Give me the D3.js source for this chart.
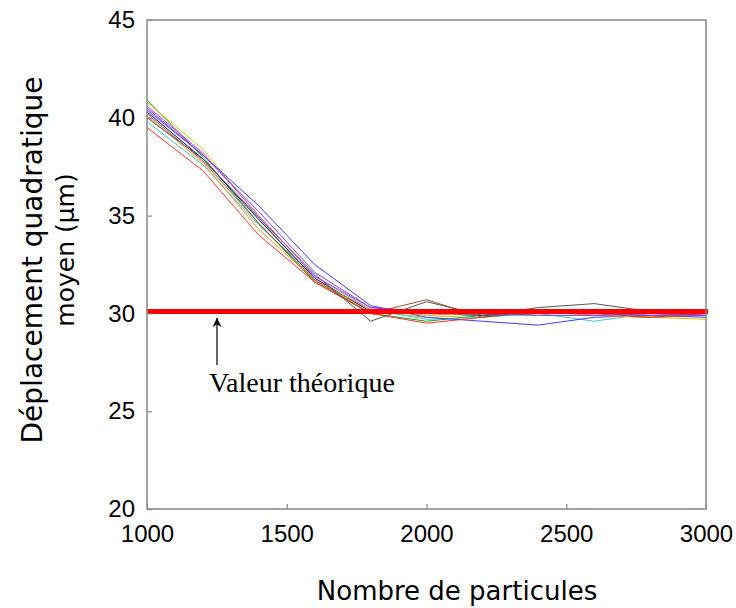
<!DOCTYPE html>
<html>
<head>
<meta charset="utf-8">
<script src="https://cdn.jsdelivr.net/npm/d3@7"></script>
<style>
  body { margin: 0; background: #fff; }
  svg { display: block; }
</style>
</head>
<body>
<script>
// particle counts on the x axis
var particles = [1000, 1200, 1400, 1600, 1800, 2000, 2200, 2400, 2600, 2800, 3000];

// one run per series
var runGreen   = [40.9, 38.0, 34.6, 31.6, 30.0, 29.6, 29.9, 30.0, 30.0, 29.9, 29.9];
var runYellow  = [40.8, 38.4, 34.9, 31.7, 30.1, 29.8, 29.9, 29.9, 29.9, 29.8, 29.7];
var runCyan    = [39.8, 37.6, 34.5, 31.9, 30.2, 29.7, 29.8, 30.0, 29.6, 30.0, 29.9];
var runBlue    = [40.4, 38.1, 35.5, 32.5, 30.4, 29.8, 29.6, 29.4, 29.8, 29.9, 29.8];
var runNavy    = [40.3, 37.9, 34.8, 31.8, 30.1, 30.0, 29.9, 30.0, 30.0, 30.0, 30.0];
var runRed     = [39.5, 37.3, 34.0, 31.6, 30.0, 29.5, 29.8, 30.2, 29.9, 29.8, 29.9];
var runOrange  = [40.1, 37.7, 34.3, 31.7, 30.2, 29.9, 30.0, 30.1, 29.9, 29.8, 30.0];
var runBrown   = [40.2, 37.8, 34.6, 31.7, 30.0, 30.7, 29.8, 30.1, 30.0, 29.8, 30.0];
var runGray    = [40.0, 37.9, 34.9, 32.0, 29.6, 30.6, 29.9, 30.3, 30.5, 30.1, 30.0];
var runMagenta = [40.6, 38.2, 35.0, 31.9, 30.3, 30.0, 30.0, 30.1, 30.0, 29.9, 30.0];
var runPurple  = [40.5, 38.1, 35.2, 32.1, 30.3, 30.1, 30.0, 29.9, 29.9, 30.0, 29.9];

var runs = [runGreen, runYellow, runCyan, runBlue, runNavy, runRed,
            runOrange, runBrown, runGray, runMagenta, runPurple];
var runColours = ["#1a9a1a", "#c8c81e", "#3cc8c8", "#3c3cff", "#0000a0", "#ff3030",
                  "#ff8c1a", "#a0522d", "#555555", "#d030d0", "#7a3cff"];

var theoretical = 30.1;
var xTicks = [1000, 1500, 2000, 2500, 3000];
var yTicks = [20, 25, 30, 35, 40, 45];

var width = 736, height = 608;
var margin = { top: 20, right: 30, bottom: 99, left: 147 };

var svg = d3.select("body")
    .append("svg")
    .attr("width", width)
    .attr("height", height);

var x = d3.scaleLinear()
    .domain([1000, 3000])
    .range([margin.left, width - margin.right]);
var y = d3.scaleLinear()
    .domain([20, 45])
    .range([height - margin.bottom, margin.top]);

// series lines
var line = d3.line()
    .x(function(d, i) { return x(particles[i]); })
    .y(function(d) { return y(d); });

svg.append("g")
    .selectAll("path")
    .data(runs)
    .enter()
    .append("path")
    .attr("d", line)
    .attr("fill", "none")
    .attr("stroke-width", 1)
    .attr("stroke", function(d, i) { return runColours[i]; });

// theoretical value, thick red
svg.append("line")
    .attr("x1", x(1000))
    .attr("x2", x(3000) + 2)
    .attr("y1", y(theoretical))
    .attr("y2", y(theoretical))
    .attr("stroke", "#ff0000")
    .attr("stroke-width", 5);

// frame
svg.append("rect")
    .attr("x", x(1000))
    .attr("y", y(45))
    .attr("width", x(3000) - x(1000))
    .attr("height", y(20) - y(45))
    .attr("fill", "none")
    .attr("stroke", "#888")
    .attr("stroke-width", 1.5);

// axes with inward ticks
var xAxis = svg.append("g")
    .attr("transform", "translate(0," + y(20) + ")")
    .call(d3.axisBottom(x).tickValues(xTicks).tickSize(-5).tickPadding(16).tickFormat(d3.format("d")));
var yAxis = svg.append("g")
    .attr("transform", "translate(" + x(1000) + ",0)")
    .call(d3.axisLeft(y).tickValues(yTicks).tickSize(-5).tickPadding(12));

[xAxis, yAxis].forEach(function(a) {
    a.select(".domain").remove();
    a.selectAll(".tick line").attr("stroke", "#888").attr("stroke-width", 1.2);
    a.selectAll("text")
        .attr("fill", "#000")
        .style("font-family", "'Liberation Sans', Arial, sans-serif")
        .style("font-size", "24px");
});

// annotation arrow
svg.append("defs").append("marker")
    .attr("id", "head")
    .attr("viewBox", "0 0 10 10")
    .attr("refX", 10)
    .attr("refY", 5)
    .attr("markerUnits", "userSpaceOnUse")
    .attr("markerWidth", 14)
    .attr("markerHeight", 9)
    .attr("orient", "auto")
    .append("path")
    .attr("d", "M0,0L10,5L0,10L3,5Z")
    .attr("fill", "#000");

svg.append("line")
    .attr("x1", 217).attr("y1", 365)
    .attr("x2", 217).attr("y2", 318)
    .attr("stroke", "#000")
    .attr("stroke-width", 1.2)
    .attr("marker-end", "url(#head)");

svg.append("text")
    .attr("x", 209)
    .attr("y", 392)
    .style("font-family", "'Liberation Serif', 'Times New Roman', serif")
    .style("font-size", "28px")
    .text("Valeur théorique");

// axis titles
svg.append("text")
    .attr("x", 457)
    .attr("y", 600)
    .attr("text-anchor", "middle")
    .style("font-family", "'DejaVu Sans', sans-serif")
    .style("font-size", "26px")
    .text("Nombre de particules");

var yTitle = svg.append("text")
    .attr("transform", "translate(42,260) rotate(-90)")
    .attr("text-anchor", "middle")
    .style("font-family", "'DejaVu Sans', sans-serif")
    .style("font-size", "28px");
yTitle.append("tspan").attr("x", 0).attr("dy", 0).text("Déplacement quadratique");
yTitle.append("tspan").attr("x", 10).attr("dy", 32)
    .style("font-size", "25px")
    .text("moyen (µm)");
</script>
</body>
</html>
